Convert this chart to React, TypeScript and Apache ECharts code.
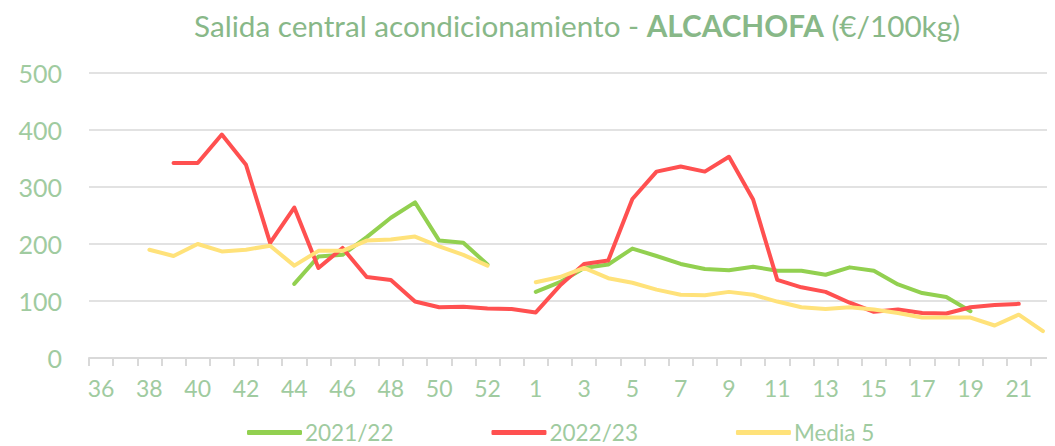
import React, { useEffect, useRef } from "react";
import * as echarts from "echarts";

const weeks: string[] = [
  "36", "37", "38", "39", "40", "41", "42", "43", "44", "45", "46", "47", "48", "49", "50", "51", "52", "53",
  "1", "2", "3", "4", "5", "6", "7", "8", "9", "10", "11", "12", "13", "14", "15", "16", "17", "18", "19", "20", "21", "22",
];

const s2122: (number | null)[] = [
  null, null, null, null, null, null, null, null, 130, 178, 181, 212, 246, 273, 206, 202, 164, null,
  116, 133, 158, 164, 192, 179, 165, 156, 154, 160, 153, 153, 146, 159, 153, 129, 114, 107, 82, null, null, null,
];

const s2223: (number | null)[] = [
  null, null, null, 342, 342, 392, 339, 202, 264, 158, 193, 142, 137, 99, 89, 90, 87, 86,
  80, 127, 165, 171, 279, 327, 336, 327, 353, 278, 137, 124, 116, 97, 81, 85, 79, 78, 89, 93, 95, null,
];

const media5: (number | null)[] = [
  null, null, 190, 179, 200, 187, 190, 197, 162, 188, 188, 206, 208, 213, 196, 181, 162, null,
  133, 142, 158, 140, 132, 120, 111, 110, 116, 111, 99, 89, 86, 89, 85, 79, 71, 71, 71, 57, 76, 47,
];

const yTicks = { min: 0, max: 500, interval: 100 };

const TEXT = "#a0cba0";
const TITLE = "#88b888";
const GRID = "#d9d9d9";
const FONT = "Lato";

export default function App() {
  const ref = useRef<HTMLDivElement>(null);
  useEffect(() => {
    if (!ref.current) return;
    const chart = echarts.init(ref.current, undefined, { renderer: "svg" });
    const line = (name: string, data: (number | null)[], color: string) => ({
      name,
      type: "line",
      data,
      symbol: "none",
      connectNulls: false,
      itemStyle: { color },
      lineStyle: { color, width: 4, cap: "round", join: "round" },
    });
    chart.setOption({
      animation: false,
      title: {
        text: "{a|Salida central acondicionamiento - }{b|ALCACHOFA}{a| (€/100kg)}",
        left: 189,
        top: 5,
        textStyle: {
          rich: {
            a: { fontFamily: FONT, fontSize: 29.7, color: TITLE, fontWeight: "normal" },
            b: { fontFamily: FONT, fontSize: 29.7, color: TITLE, fontWeight: "bold" },
          },
        },
      },
      legend: {
        left: 242,
        top: 416,
        itemWidth: 55,
        itemHeight: 5,
        itemGap: 98,
        icon: "roundRect",
        textStyle: { fontFamily: FONT, fontSize: 22.5, color: TEXT, padding: [0, 0, 0, -2] },
        data: ["2021/22", "2022/23", "Media 5"],
      },
      grid: { left: 89, right: -12, top: 73, bottom: 88, containLabel: false },
      xAxis: {
        type: "category",
        data: weeks,
        boundaryGap: true,
        axisLine: { lineStyle: { color: GRID, width: 2 } },
        axisTick: { show: true, interval: 0, length: 8, lineStyle: { color: GRID, width: 2 } },
        axisLabel: { interval: 1, margin: 18, fontFamily: FONT, fontSize: 23, color: TEXT },
      },
      yAxis: {
        type: "value",
        min: yTicks.min,
        max: yTicks.max,
        interval: yTicks.interval,
        axisLine: { show: false },
        axisTick: { show: false },
        splitLine: { lineStyle: { color: GRID, width: 1.5 } },
        axisLabel: { margin: 27, fontFamily: FONT, fontSize: 25, color: TEXT },
      },
      series: [
        line("2021/22", s2122, "#92d050"),
        line("2022/23", s2223, "#ff5050"),
        line("Media 5", media5, "#ffe27a"),
      ],
    });
    return () => chart.dispose();
  }, []);
  return <div ref={ref} style={{ width: 1055, height: 446, marginLeft: -8, marginTop: -8 }} />;
}
